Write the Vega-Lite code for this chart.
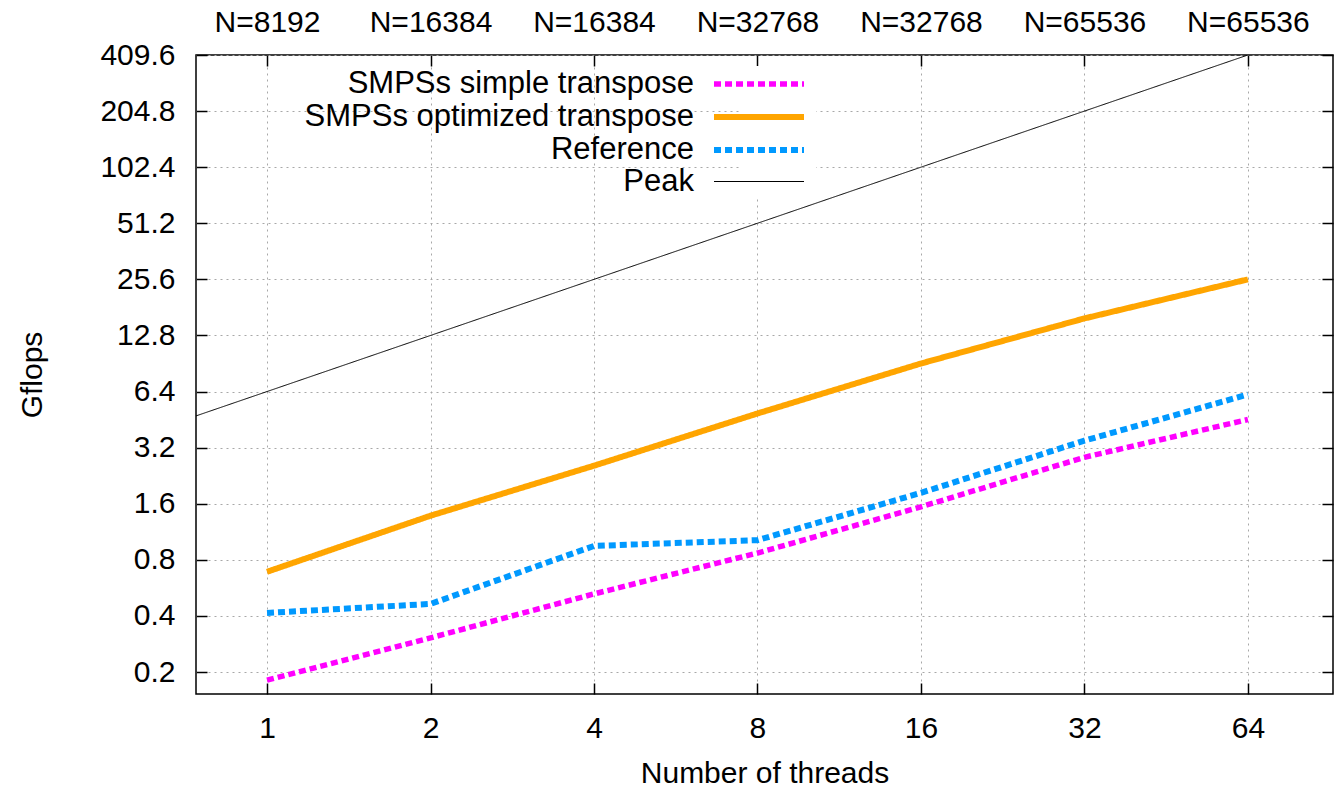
{
  "$schema": "https://vega.github.io/schema/vega-lite/v6.json",
  "width": 1137,
  "height": 639,
  "autosize": {"type": "none"},
  "padding": {"left": 196, "top": 55, "right": 2, "bottom": 93},
  "background": "white",
  "config": {
    "font": "Liberation Sans",
    "view": {"stroke": "black", "strokeWidth": 1.5},
    "axis": {
      "labelFont": "Liberation Sans",
      "titleFont": "Liberation Sans",
      "labelFontSize": 30,
      "titleFontSize": 30,
      "titleFontWeight": "normal",
      "labelColor": "black",
      "titleColor": "black",
      "domain": false,
      "tickColor": "black",
      "tickWidth": 1.5,
      "tickSize": -11,
      "gridColor": "#a8a8a8",
      "gridDash": [2, 4],
      "gridWidth": 1
    },
    "legend": {"labelFont": "Liberation Sans", "labelFontSize": 31, "labelColor": "black"}
  },
  "data": {
    "values": [
      {"threads": 1, "gflops": 0.181, "series": "SMPSs simple transpose"},
      {"threads": 2, "gflops": 0.305, "series": "SMPSs simple transpose"},
      {"threads": 4, "gflops": 0.525, "series": "SMPSs simple transpose"},
      {"threads": 8, "gflops": 0.87, "series": "SMPSs simple transpose"},
      {"threads": 16, "gflops": 1.54, "series": "SMPSs simple transpose"},
      {"threads": 32, "gflops": 2.84, "series": "SMPSs simple transpose"},
      {"threads": 64, "gflops": 4.53, "series": "SMPSs simple transpose"},
      {"threads": 1, "gflops": 0.69, "series": "SMPSs optimized transpose"},
      {"threads": 2, "gflops": 1.38, "series": "SMPSs optimized transpose"},
      {"threads": 4, "gflops": 2.56, "series": "SMPSs optimized transpose"},
      {"threads": 8, "gflops": 4.88, "series": "SMPSs optimized transpose"},
      {"threads": 16, "gflops": 9.05, "series": "SMPSs optimized transpose"},
      {"threads": 32, "gflops": 15.8, "series": "SMPSs optimized transpose"},
      {"threads": 64, "gflops": 25.6, "series": "SMPSs optimized transpose"},
      {"threads": 1, "gflops": 0.415, "series": "Reference"},
      {"threads": 2, "gflops": 0.464, "series": "Reference"},
      {"threads": 4, "gflops": 0.95, "series": "Reference"},
      {"threads": 8, "gflops": 1.02, "series": "Reference"},
      {"threads": 16, "gflops": 1.83, "series": "Reference"},
      {"threads": 32, "gflops": 3.49, "series": "Reference"},
      {"threads": 64, "gflops": 6.17, "series": "Reference"},
      {"threads": 0.74, "gflops": 4.736, "series": "Peak"},
      {"threads": 1, "gflops": 6.4, "series": "Peak"},
      {"threads": 2, "gflops": 12.8, "series": "Peak"},
      {"threads": 4, "gflops": 25.6, "series": "Peak"},
      {"threads": 8, "gflops": 51.2, "series": "Peak"},
      {"threads": 16, "gflops": 102.4, "series": "Peak"},
      {"threads": 32, "gflops": 204.8, "series": "Peak"},
      {"threads": 64, "gflops": 409.6, "series": "Peak"}
    ]
  },
  "layer": [
    {
      "mark": {"type": "line", "clip": true, "strokeCap": "butt"},
      "encoding": {
        "x": {
          "field": "threads", "type": "quantitative",
          "scale": {"type": "log", "base": 2, "domain": [0.74, 91.8], "nice": false},
          "axis": {"orient": "bottom", "values": [1, 2, 4, 8, 16, 32, 64], "format": "d", "grid": true, "labelPadding": 30, "title": "Number of threads", "titlePadding": 15}
        },
        "y": {
          "field": "gflops", "type": "quantitative",
          "scale": {"type": "log", "base": 2, "domain": [0.1524, 409.6], "nice": false},
          "axis": {"orient": "left", "values": [0.2, 0.4, 0.8, 1.6, 3.2, 6.4, 12.8, 25.6, 51.2, 102.4, 204.8, 409.6], "format": ".1f", "grid": true, "labelPadding": 32, "title": "Gflops", "titlePadding": 52}
        },
        "color": {
          "field": "series", "type": "nominal",
          "scale": {"domain": ["SMPSs simple transpose", "SMPSs optimized transpose", "Reference", "Peak"], "range": ["#ff00ff", "#ffa500", "#0099ff", "#000000"]},
          "legend": {"orient": "none", "legendX": 545, "legendY": 11, "title": null, "symbolType": "M-3,0H3", "symbolSize": 900, "labelAlign": "right", "labelOffset": -83, "labelLimit": 0, "rowPadding": 0, "fillColor": "white"}
        },
        "strokeDash": {
          "field": "series", "type": "nominal",
          "scale": {"domain": ["SMPSs simple transpose", "SMPSs optimized transpose", "Reference", "Peak"], "range": [[7, 4], [1, 0], [7, 4], [1, 0]]}
        },
        "strokeWidth": {
          "field": "series", "type": "nominal",
          "scale": {"type": "ordinal", "domain": ["SMPSs simple transpose", "SMPSs optimized transpose", "Reference", "Peak"], "range": [5.5, 6, 6, 1]}
        }
      }
    },
    {
      "mark": {"type": "point", "opacity": 0},
      "encoding": {
        "x": {
          "field": "threads", "type": "quantitative",
          "axis": {"orient": "top", "values": [1, 2, 4, 8, 16, 32, 64], "grid": false, "labelPadding": 29, "title": null,
            "labelExpr": "datum.value == 1 ? 'N=8192' : datum.value <= 4 ? 'N=16384' : datum.value <= 16 ? 'N=32768' : 'N=65536'"}
        },
        "y": {
          "field": "gflops", "type": "quantitative",
          "axis": {"orient": "right", "values": [0.2, 0.4, 0.8, 1.6, 3.2, 6.4, 12.8, 25.6, 51.2, 102.4, 204.8, 409.6], "labels": false, "grid": false, "title": null}
        }
      }
    }
  ],
  "resolve": {"axis": {"x": "independent", "y": "independent"}}
}
